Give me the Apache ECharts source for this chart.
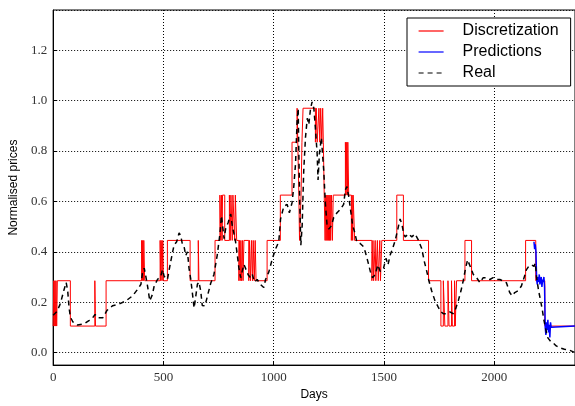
<!DOCTYPE html>
<html>
<head>
<meta charset="utf-8">
<script src="https://cdn.jsdelivr.net/npm/echarts@6/dist/echarts.min.js"></script>
<style>
    html, body { margin: 0; padding: 0; background: #fff; }
    #chart { width: 575px; height: 406px; }
</style>
</head>
<body>
<div id="chart"></div>
<script>
    // discretization levels
    let L0 = 0.105, L1 = 0.285, L2 = 0.445, L3 = 0.625, L4 = 0.835, L5 = 0.97;

    // [day, level], level holds until the next point
    let discretization = [
        [0, L0], [3, L1], [5, L0], [8, L1], [10, L0], [13, L1], [16, L0], [19, L1],
        [78, L0], [189, L1], [192, L0], [240, L1],
        [401, L2], [404, L1], [406, L2], [409, L1], [411, L2], [415, L1],
        [485, L2], [488, L1], [490, L2], [494, L1], [497, L2], [500, L1],
        [518, L2], [621, L1], [658, L2], [661, L1], [734, L2],
        [756, L3], [760, L2], [763, L3], [766, L2], [768, L3], [778, L2],
        [799, L3], [803, L2], [806, L3], [812, L2], [815, L3], [823, L2], [826, L3], [832, L2],
        [842, L1], [845, L2], [848, L1], [851, L2], [854, L1], [858, L2], [861, L1], [865, L2],
        [887, L1], [890, L2], [895, L1], [899, L2], [904, L1], [907, L2], [912, L1], [916, L2], [920, L1],
        [970, L2], [1030, L3], [1083, L4], [1106, L5], [1114, L3], [1117, L2], [1124, L3], [1128, L4], [1133, L5],
        [1189, L4], [1193, L5], [1197, L4], [1205, L5], [1209, L4], [1213, L5], [1218, L4], [1222, L5], [1225, L4],
        [1229, L3], [1233, L2], [1236, L3], [1238, L2], [1241, L3], [1243, L2], [1246, L3], [1248, L2],
        [1251, L3], [1253, L2], [1256, L3], [1258, L2], [1262, L3], [1266, L2], [1270, L3],
        [1325, L4], [1328, L3], [1331, L4], [1334, L3], [1336, L4], [1340, L3],
        [1352, L2], [1355, L3], [1358, L2], [1360, L3], [1367, L2],
        [1445, L1], [1450, L2], [1453, L1], [1460, L2], [1463, L1], [1470, L2], [1474, L1], [1481, L2], [1484, L1], [1490, L2],
        [1558, L3], [1588, L2], [1702, L1],
        [1758, L0], [1769, L1], [1776, L0], [1790, L1], [1795, L0], [1806, L1], [1810, L0], [1820, L1], [1823, L0], [1829, L1],
        [1867, L2], [1897, L1], [2142, L2], [2188, L1], [2229, L0], [2366, L0]
    ];

    let predictions = [
        [2180, 0.44], [2183, 0.41], [2186, 0.43], [2189, 0.40], [2192, 0.29], [2195, 0.27], [2198, 0.30],
        [2201, 0.28], [2204, 0.31], [2207, 0.27], [2210, 0.29], [2213, 0.30], [2216, 0.26], [2219, 0.29],
        [2222, 0.28], [2225, 0.30], [2228, 0.26], [2231, 0.10], [2234, 0.07], [2237, 0.12], [2240, 0.09],
        [2243, 0.13], [2246, 0.08], [2249, 0.11], [2252, 0.06], [2255, 0.12], [2258, 0.10], [2262, 0.105],
        [2366, 0.105]
    ];

    let real = [
        [0, 0.148], [15, 0.161], [29, 0.186], [36, 0.205], [48, 0.245], [59, 0.278], [66, 0.245], [72, 0.179],
        [78, 0.141], [89, 0.122], [111, 0.109], [142, 0.115], [164, 0.128], [179, 0.138], [190, 0.151],
        [202, 0.138], [225, 0.138], [244, 0.167], [270, 0.186], [300, 0.193], [330, 0.205], [360, 0.225],
        [383, 0.251], [398, 0.271], [405, 0.316], [413, 0.335], [420, 0.303], [428, 0.264], [438, 0.205],
        [450, 0.23], [458, 0.264], [473, 0.29], [488, 0.303], [496, 0.329], [503, 0.303], [518, 0.29],
        [533, 0.361], [548, 0.426], [560, 0.44], [571, 0.475], [578, 0.465], [586, 0.43], [594, 0.419],
        [601, 0.385], [609, 0.40], [616, 0.335], [624, 0.29], [631, 0.238], [639, 0.177], [646, 0.219],
        [654, 0.271], [661, 0.28], [669, 0.245], [676, 0.187], [688, 0.185], [699, 0.222], [714, 0.274],
        [729, 0.31], [744, 0.387], [756, 0.47], [763, 0.543], [770, 0.49], [775, 0.452], [782, 0.491],
        [794, 0.517], [805, 0.55], [812, 0.504], [820, 0.471], [827, 0.44], [835, 0.387], [842, 0.336],
        [850, 0.297], [857, 0.322], [865, 0.35], [872, 0.349], [884, 0.309], [895, 0.297], [903, 0.31],
        [913, 0.28], [925, 0.29], [940, 0.27], [955, 0.258], [963, 0.29], [978, 0.32], [993, 0.37],
        [1008, 0.41], [1023, 0.44], [1031, 0.53], [1046, 0.581], [1061, 0.588], [1071, 0.555], [1083, 0.594],
        [1091, 0.659], [1099, 0.75], [1106, 0.918], [1111, 0.969], [1114, 0.788], [1118, 0.594], [1123, 0.426],
        [1129, 0.504], [1136, 0.72], [1144, 0.853], [1152, 0.93], [1159, 0.905], [1167, 0.969], [1174, 0.995],
        [1182, 0.969], [1189, 0.892], [1197, 0.788], [1201, 0.685], [1207, 0.788], [1216, 0.853], [1227, 0.72],
        [1234, 0.594], [1242, 0.504], [1250, 0.49], [1262, 0.504], [1272, 0.536], [1287, 0.555], [1302, 0.568],
        [1317, 0.588], [1325, 0.646], [1332, 0.659], [1340, 0.62], [1352, 0.543], [1358, 0.504], [1367, 0.478],
        [1377, 0.439], [1392, 0.433], [1407, 0.42], [1415, 0.40], [1427, 0.361], [1438, 0.322], [1448, 0.297],
        [1460, 0.309], [1472, 0.348], [1483, 0.322], [1498, 0.335], [1509, 0.374], [1518, 0.348], [1528, 0.387],
        [1539, 0.413], [1551, 0.446], [1563, 0.491], [1573, 0.53], [1581, 0.51], [1588, 0.478], [1596, 0.459],
        [1611, 0.471], [1626, 0.459], [1641, 0.471], [1656, 0.446], [1671, 0.413], [1683, 0.361], [1694, 0.322],
        [1704, 0.284], [1716, 0.245], [1731, 0.206], [1746, 0.18], [1758, 0.161], [1769, 0.154], [1784, 0.154],
        [1799, 0.161], [1814, 0.154], [1825, 0.174], [1837, 0.206], [1849, 0.245], [1859, 0.284], [1870, 0.335],
        [1879, 0.368], [1894, 0.335], [1905, 0.31], [1920, 0.297], [1935, 0.277], [1950, 0.297], [1965, 0.297],
        [1980, 0.29], [1995, 0.297], [2010, 0.29], [2025, 0.29], [2040, 0.284], [2055, 0.277], [2070, 0.238],
        [2081, 0.225], [2093, 0.238], [2108, 0.245], [2123, 0.264], [2135, 0.297], [2146, 0.329], [2156, 0.342],
        [2168, 0.348], [2180, 0.342], [2186, 0.355], [2192, 0.297], [2201, 0.245], [2210, 0.206], [2218, 0.168],
        [2225, 0.129], [2231, 0.103], [2237, 0.077], [2243, 0.058], [2255, 0.045], [2266, 0.039], [2281, 0.026],
        [2296, 0.019], [2318, 0.013], [2341, 0.009], [2365, 0.0]
    ];

    let myChart = echarts.init(document.getElementById('chart'), null, {renderer: 'canvas'});

    let tickFont = {
        fontFamily: 'Liberation Serif',
        fontSize: 13,
        color: '#333'
    };

    let option = {
        animation: false,
        grid: {
            left: 52,
            right: 0,
            top: 10,
            bottom: 33,
            show: true,
            borderColor: '#000',
            borderWidth: 1
        },
        legend: {
            orient: 'vertical',
            left: 407,
            top: 18,
            padding: [5, 12, 5, 11],
            itemWidth: 25,
            itemHeight: 14,
            itemGap: 5,
            borderColor: '#000',
            borderWidth: 1,
            backgroundColor: '#fff',
            itemStyle: {opacity: 0},
            lineStyle: {width: 1.2},
            textStyle: {
                fontFamily: 'Liberation Sans',
                fontSize: 16,
                color: '#000',
                padding: [0, 0, 0, 14]
            },
            data: ['Discretization', 'Predictions', 'Real']
        },
        xAxis: {
            type: 'value',
            min: 0,
            max: 2366,
            interval: 500,
            name: 'Days',
            nameLocation: 'middle',
            nameGap: 21,
            nameTextStyle: {fontFamily: 'Liberation Sans', fontSize: 12, color: '#000'},
            axisLine: {onZero: false, lineStyle: {color: '#000', width: 1}},
            axisTick: {inside: true, length: 4, lineStyle: {color: '#000'}},
            axisLabel: Object.assign({
                margin: 6,
                showMaxLabel: false,
                formatter: (v) => String(v)
            }, tickFont),
            splitLine: {show: true, lineStyle: {color: '#000', type: [1, 2], width: 1}}
        },
        yAxis: {
            type: 'value',
            min: -0.05,
            max: 1.36,
            splitNumber: 7,
            name: 'Normalised prices',
            nameLocation: 'middle',
            nameGap: 31,
            nameTextStyle: {fontFamily: 'Liberation Sans', fontSize: 12, color: '#000'},
            axisLine: {show: true, onZero: false, lineStyle: {color: '#000', width: 1}},
            axisTick: {show: true, inside: true, length: 4, lineStyle: {color: '#000'}},
            axisLabel: Object.assign({
                margin: 6,
                showMinLabel: false,
                showMaxLabel: false,
                formatter: (v) => v.toFixed(1)
            }, tickFont),
            splitLine: {show: true, lineStyle: {color: '#000', type: [1, 2], width: 1}}
        },
        series: [
            {
                name: 'Discretization',
                type: 'line',
                step: 'end',
                symbol: 'none',
                color: '#ff0000',
                lineStyle: {color: '#ff0000', width: 1},
                data: discretization
            },
            {
                name: 'Predictions',
                type: 'line',
                symbol: 'none',
                color: '#0000ff',
                lineStyle: {color: '#0000ff', width: 1.5},
                data: predictions
            },
            {
                name: 'Real',
                type: 'line',
                symbol: 'none',
                color: '#000',
                lineStyle: {color: '#000', width: 1.5, type: [5, 4]},
                data: real
            }
        ]
    };

    myChart.setOption(option);
</script>
</body>
</html>
